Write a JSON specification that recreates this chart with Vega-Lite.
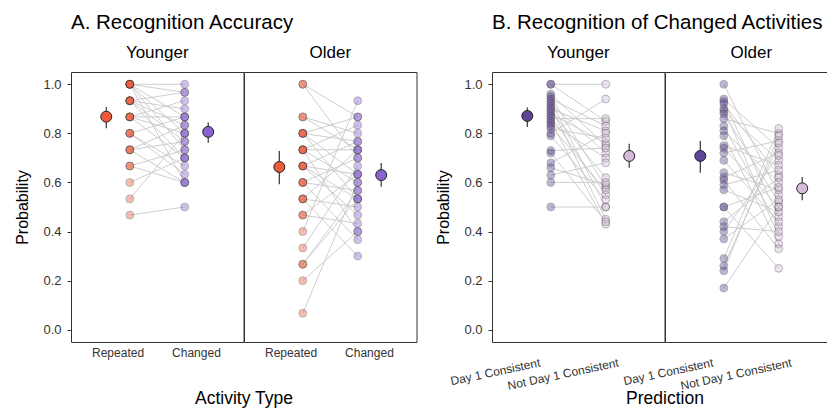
{
"$schema": "https://vega.github.io/schema/vega-lite/v6.json",
"padding": {"left": 14, "top": 12, "right": 0, "bottom": 0},
"datasets": {
"acc": [
{"age":"Younger","subject":"Y01","cond":"Repeated","p":1},{"age":"Younger","subject":"Y01","cond":"Changed","p":1},
{"age":"Younger","subject":"Y02","cond":"Repeated","p":1},{"age":"Younger","subject":"Y02","cond":"Changed","p":0.967},
{"age":"Younger","subject":"Y03","cond":"Repeated","p":1},{"age":"Younger","subject":"Y03","cond":"Changed","p":0.867},
{"age":"Younger","subject":"Y04","cond":"Repeated","p":1},{"age":"Younger","subject":"Y04","cond":"Changed","p":0.8},
{"age":"Younger","subject":"Y05","cond":"Repeated","p":1},{"age":"Younger","subject":"Y05","cond":"Changed","p":0.733},
{"age":"Younger","subject":"Y06","cond":"Repeated","p":1},{"age":"Younger","subject":"Y06","cond":"Changed","p":0.6},
{"age":"Younger","subject":"Y07","cond":"Repeated","p":0.933},{"age":"Younger","subject":"Y07","cond":"Changed","p":0.967},
{"age":"Younger","subject":"Y08","cond":"Repeated","p":0.933},{"age":"Younger","subject":"Y08","cond":"Changed","p":0.9},
{"age":"Younger","subject":"Y09","cond":"Repeated","p":0.933},{"age":"Younger","subject":"Y09","cond":"Changed","p":0.833},
{"age":"Younger","subject":"Y10","cond":"Repeated","p":0.933},{"age":"Younger","subject":"Y10","cond":"Changed","p":0.767},
{"age":"Younger","subject":"Y11","cond":"Repeated","p":0.933},{"age":"Younger","subject":"Y11","cond":"Changed","p":0.7},
{"age":"Younger","subject":"Y12","cond":"Repeated","p":0.867},{"age":"Younger","subject":"Y12","cond":"Changed","p":0.933},
{"age":"Younger","subject":"Y13","cond":"Repeated","p":0.867},{"age":"Younger","subject":"Y13","cond":"Changed","p":0.867},
{"age":"Younger","subject":"Y14","cond":"Repeated","p":0.867},{"age":"Younger","subject":"Y14","cond":"Changed","p":0.7},
{"age":"Younger","subject":"Y15","cond":"Repeated","p":0.867},{"age":"Younger","subject":"Y15","cond":"Changed","p":0.8},
{"age":"Younger","subject":"Y16","cond":"Repeated","p":0.8},{"age":"Younger","subject":"Y16","cond":"Changed","p":0.867},
{"age":"Younger","subject":"Y17","cond":"Repeated","p":0.8},{"age":"Younger","subject":"Y17","cond":"Changed","p":0.667},
{"age":"Younger","subject":"Y18","cond":"Repeated","p":0.8},{"age":"Younger","subject":"Y18","cond":"Changed","p":0.633},
{"age":"Younger","subject":"Y19","cond":"Repeated","p":0.733},{"age":"Younger","subject":"Y19","cond":"Changed","p":0.833},
{"age":"Younger","subject":"Y20","cond":"Repeated","p":0.733},{"age":"Younger","subject":"Y20","cond":"Changed","p":0.767},
{"age":"Younger","subject":"Y21","cond":"Repeated","p":0.733},{"age":"Younger","subject":"Y21","cond":"Changed","p":0.6},
{"age":"Younger","subject":"Y22","cond":"Repeated","p":0.667},{"age":"Younger","subject":"Y22","cond":"Changed","p":0.6},
{"age":"Younger","subject":"Y23","cond":"Repeated","p":0.667},{"age":"Younger","subject":"Y23","cond":"Changed","p":0.733},
{"age":"Younger","subject":"Y24","cond":"Repeated","p":0.6},{"age":"Younger","subject":"Y24","cond":"Changed","p":0.7},
{"age":"Younger","subject":"Y25","cond":"Repeated","p":0.533},{"age":"Younger","subject":"Y25","cond":"Changed","p":0.8},
{"age":"Younger","subject":"Y26","cond":"Repeated","p":0.467},{"age":"Younger","subject":"Y26","cond":"Changed","p":0.5},
{"age":"Older","subject":"O01","cond":"Repeated","p":1},{"age":"Older","subject":"O01","cond":"Changed","p":0.7},
{"age":"Older","subject":"O02","cond":"Repeated","p":1},{"age":"Older","subject":"O02","cond":"Changed","p":0.867},
{"age":"Older","subject":"O03","cond":"Repeated","p":0.867},{"age":"Older","subject":"O03","cond":"Changed","p":0.733},
{"age":"Older","subject":"O04","cond":"Repeated","p":0.867},{"age":"Older","subject":"O04","cond":"Changed","p":0.8},
{"age":"Older","subject":"O05","cond":"Repeated","p":0.8},{"age":"Older","subject":"O05","cond":"Changed","p":0.867},
{"age":"Older","subject":"O06","cond":"Repeated","p":0.8},{"age":"Older","subject":"O06","cond":"Changed","p":0.633},
{"age":"Older","subject":"O07","cond":"Repeated","p":0.8},{"age":"Older","subject":"O07","cond":"Changed","p":0.533},
{"age":"Older","subject":"O08","cond":"Repeated","p":0.8},{"age":"Older","subject":"O08","cond":"Changed","p":0.767},
{"age":"Older","subject":"O09","cond":"Repeated","p":0.733},{"age":"Older","subject":"O09","cond":"Changed","p":0.833},
{"age":"Older","subject":"O10","cond":"Repeated","p":0.733},{"age":"Older","subject":"O10","cond":"Changed","p":0.6},
{"age":"Older","subject":"O11","cond":"Repeated","p":0.733},{"age":"Older","subject":"O11","cond":"Changed","p":0.4},
{"age":"Older","subject":"O12","cond":"Repeated","p":0.733},{"age":"Older","subject":"O12","cond":"Changed","p":0.733},
{"age":"Older","subject":"O13","cond":"Repeated","p":0.667},{"age":"Older","subject":"O13","cond":"Changed","p":0.767},
{"age":"Older","subject":"O14","cond":"Repeated","p":0.667},{"age":"Older","subject":"O14","cond":"Changed","p":0.533},
{"age":"Older","subject":"O15","cond":"Repeated","p":0.667},{"age":"Older","subject":"O15","cond":"Changed","p":0.633},
{"age":"Older","subject":"O16","cond":"Repeated","p":0.667},{"age":"Older","subject":"O16","cond":"Changed","p":0.467},
{"age":"Older","subject":"O17","cond":"Repeated","p":0.6},{"age":"Older","subject":"O17","cond":"Changed","p":0.7},
{"age":"Older","subject":"O18","cond":"Repeated","p":0.6},{"age":"Older","subject":"O18","cond":"Changed","p":0.567},
{"age":"Older","subject":"O19","cond":"Repeated","p":0.6},{"age":"Older","subject":"O19","cond":"Changed","p":0.367},
{"age":"Older","subject":"O20","cond":"Repeated","p":0.533},{"age":"Older","subject":"O20","cond":"Changed","p":0.733},
{"age":"Older","subject":"O21","cond":"Repeated","p":0.533},{"age":"Older","subject":"O21","cond":"Changed","p":0.5},
{"age":"Older","subject":"O22","cond":"Repeated","p":0.533},{"age":"Older","subject":"O22","cond":"Changed","p":0.3},
{"age":"Older","subject":"O23","cond":"Repeated","p":0.467},{"age":"Older","subject":"O23","cond":"Changed","p":0.633},
{"age":"Older","subject":"O24","cond":"Repeated","p":0.467},{"age":"Older","subject":"O24","cond":"Changed","p":0.433},
{"age":"Older","subject":"O25","cond":"Repeated","p":0.4},{"age":"Older","subject":"O25","cond":"Changed","p":0.933},
{"age":"Older","subject":"O26","cond":"Repeated","p":0.333},{"age":"Older","subject":"O26","cond":"Changed","p":0.667},
{"age":"Older","subject":"O27","cond":"Repeated","p":0.267},{"age":"Older","subject":"O27","cond":"Changed","p":0.567},
{"age":"Older","subject":"O28","cond":"Repeated","p":0.267},{"age":"Older","subject":"O28","cond":"Changed","p":0.533},
{"age":"Older","subject":"O29","cond":"Repeated","p":0.2},{"age":"Older","subject":"O29","cond":"Changed","p":0.4},
{"age":"Older","subject":"O30","cond":"Repeated","p":0.067},{"age":"Older","subject":"O30","cond":"Changed","p":0.6},
{"age":"Younger","cond":"Repeated","mean":0.868,"lo":0.821,"hi":0.907},
{"age":"Younger","cond":"Changed","mean":0.806,"lo":0.762,"hi":0.844},
{"age":"Older","cond":"Repeated","mean":0.663,"lo":0.593,"hi":0.728},
{"age":"Older","cond":"Changed","mean":0.63,"lo":0.582,"hi":0.679}
],
"chg": [
{"age":"Younger","subject":"Y01","cond":"Day 1 Consistent","p":1},{"age":"Younger","subject":"Y01","cond":"Not Day 1 Consistent","p":1},
{"age":"Younger","subject":"Y02","cond":"Day 1 Consistent","p":1},{"age":"Younger","subject":"Y02","cond":"Not Day 1 Consistent","p":0.85},
{"age":"Younger","subject":"Y03","cond":"Day 1 Consistent","p":0.96},{"age":"Younger","subject":"Y03","cond":"Not Day 1 Consistent","p":0.75},
{"age":"Younger","subject":"Y04","cond":"Day 1 Consistent","p":0.95},{"age":"Younger","subject":"Y04","cond":"Not Day 1 Consistent","p":0.58},
{"age":"Younger","subject":"Y05","cond":"Day 1 Consistent","p":0.94},{"age":"Younger","subject":"Y05","cond":"Not Day 1 Consistent","p":0.83},
{"age":"Younger","subject":"Y06","cond":"Day 1 Consistent","p":0.93},{"age":"Younger","subject":"Y06","cond":"Not Day 1 Consistent","p":0.5},
{"age":"Younger","subject":"Y07","cond":"Day 1 Consistent","p":0.92},{"age":"Younger","subject":"Y07","cond":"Not Day 1 Consistent","p":0.72},
{"age":"Younger","subject":"Y08","cond":"Day 1 Consistent","p":0.91},{"age":"Younger","subject":"Y08","cond":"Not Day 1 Consistent","p":0.45},
{"age":"Younger","subject":"Y09","cond":"Day 1 Consistent","p":0.9},{"age":"Younger","subject":"Y09","cond":"Not Day 1 Consistent","p":0.81},
{"age":"Younger","subject":"Y10","cond":"Day 1 Consistent","p":0.89},{"age":"Younger","subject":"Y10","cond":"Not Day 1 Consistent","p":0.62},
{"age":"Younger","subject":"Y11","cond":"Day 1 Consistent","p":0.88},{"age":"Younger","subject":"Y11","cond":"Not Day 1 Consistent","p":0.76},
{"age":"Younger","subject":"Y12","cond":"Day 1 Consistent","p":0.87},{"age":"Younger","subject":"Y12","cond":"Not Day 1 Consistent","p":0.55},
{"age":"Younger","subject":"Y13","cond":"Day 1 Consistent","p":0.86},{"age":"Younger","subject":"Y13","cond":"Not Day 1 Consistent","p":0.86},
{"age":"Younger","subject":"Y14","cond":"Day 1 Consistent","p":0.85},{"age":"Younger","subject":"Y14","cond":"Not Day 1 Consistent","p":0.43},
{"age":"Younger","subject":"Y15","cond":"Day 1 Consistent","p":0.84},{"age":"Younger","subject":"Y15","cond":"Not Day 1 Consistent","p":0.7},
{"age":"Younger","subject":"Y16","cond":"Day 1 Consistent","p":0.83},{"age":"Younger","subject":"Y16","cond":"Not Day 1 Consistent","p":0.57},
{"age":"Younger","subject":"Y17","cond":"Day 1 Consistent","p":0.82},{"age":"Younger","subject":"Y17","cond":"Not Day 1 Consistent","p":0.78},
{"age":"Younger","subject":"Y18","cond":"Day 1 Consistent","p":0.8},{"age":"Younger","subject":"Y18","cond":"Not Day 1 Consistent","p":0.94},
{"age":"Younger","subject":"Y19","cond":"Day 1 Consistent","p":0.79},{"age":"Younger","subject":"Y19","cond":"Not Day 1 Consistent","p":0.53},
{"age":"Younger","subject":"Y20","cond":"Day 1 Consistent","p":0.73},{"age":"Younger","subject":"Y20","cond":"Not Day 1 Consistent","p":0.74},
{"age":"Younger","subject":"Y21","cond":"Day 1 Consistent","p":0.72},{"age":"Younger","subject":"Y21","cond":"Not Day 1 Consistent","p":0.44},
{"age":"Younger","subject":"Y22","cond":"Day 1 Consistent","p":0.68},{"age":"Younger","subject":"Y22","cond":"Not Day 1 Consistent","p":0.8},
{"age":"Younger","subject":"Y23","cond":"Day 1 Consistent","p":0.66},{"age":"Younger","subject":"Y23","cond":"Not Day 1 Consistent","p":0.59},
{"age":"Younger","subject":"Y24","cond":"Day 1 Consistent","p":0.63},{"age":"Younger","subject":"Y24","cond":"Not Day 1 Consistent","p":0.68},
{"age":"Younger","subject":"Y25","cond":"Day 1 Consistent","p":0.6},{"age":"Younger","subject":"Y25","cond":"Not Day 1 Consistent","p":0.6},
{"age":"Younger","subject":"Y26","cond":"Day 1 Consistent","p":0.5},{"age":"Younger","subject":"Y26","cond":"Not Day 1 Consistent","p":0.5},
{"age":"Older","subject":"O01","cond":"Day 1 Consistent","p":1},{"age":"Older","subject":"O01","cond":"Not Day 1 Consistent","p":0.55},
{"age":"Older","subject":"O02","cond":"Day 1 Consistent","p":0.94},{"age":"Older","subject":"O02","cond":"Not Day 1 Consistent","p":0.74},
{"age":"Older","subject":"O03","cond":"Day 1 Consistent","p":0.93},{"age":"Older","subject":"O03","cond":"Not Day 1 Consistent","p":0.46},
{"age":"Older","subject":"O04","cond":"Day 1 Consistent","p":0.92},{"age":"Older","subject":"O04","cond":"Not Day 1 Consistent","p":0.63},
{"age":"Older","subject":"O05","cond":"Day 1 Consistent","p":0.9},{"age":"Older","subject":"O05","cond":"Not Day 1 Consistent","p":0.38},
{"age":"Older","subject":"O06","cond":"Day 1 Consistent","p":0.89},{"age":"Older","subject":"O06","cond":"Not Day 1 Consistent","p":0.69},
{"age":"Older","subject":"O07","cond":"Day 1 Consistent","p":0.88},{"age":"Older","subject":"O07","cond":"Not Day 1 Consistent","p":0.52},
{"age":"Older","subject":"O08","cond":"Day 1 Consistent","p":0.86},{"age":"Older","subject":"O08","cond":"Not Day 1 Consistent","p":0.8},
{"age":"Older","subject":"O09","cond":"Day 1 Consistent","p":0.83},{"age":"Older","subject":"O09","cond":"Not Day 1 Consistent","p":0.42},
{"age":"Older","subject":"O10","cond":"Day 1 Consistent","p":0.81},{"age":"Older","subject":"O10","cond":"Not Day 1 Consistent","p":0.6},
{"age":"Older","subject":"O11","cond":"Day 1 Consistent","p":0.79},{"age":"Older","subject":"O11","cond":"Not Day 1 Consistent","p":0.35},
{"age":"Older","subject":"O12","cond":"Day 1 Consistent","p":0.75},{"age":"Older","subject":"O12","cond":"Not Day 1 Consistent","p":0.67},
{"age":"Older","subject":"O13","cond":"Day 1 Consistent","p":0.74},{"age":"Older","subject":"O13","cond":"Not Day 1 Consistent","p":0.5},
{"age":"Older","subject":"O14","cond":"Day 1 Consistent","p":0.72},{"age":"Older","subject":"O14","cond":"Not Day 1 Consistent","p":0.77},
{"age":"Older","subject":"O15","cond":"Day 1 Consistent","p":0.69},{"age":"Older","subject":"O15","cond":"Not Day 1 Consistent","p":0.44},
{"age":"Older","subject":"O16","cond":"Day 1 Consistent","p":0.64},{"age":"Older","subject":"O16","cond":"Not Day 1 Consistent","p":0.57},
{"age":"Older","subject":"O17","cond":"Day 1 Consistent","p":0.62},{"age":"Older","subject":"O17","cond":"Not Day 1 Consistent","p":0.72},
{"age":"Older","subject":"O18","cond":"Day 1 Consistent","p":0.61},{"age":"Older","subject":"O18","cond":"Not Day 1 Consistent","p":0.33},
{"age":"Older","subject":"O19","cond":"Day 1 Consistent","p":0.59},{"age":"Older","subject":"O19","cond":"Not Day 1 Consistent","p":0.65},
{"age":"Older","subject":"O20","cond":"Day 1 Consistent","p":0.57},{"age":"Older","subject":"O20","cond":"Not Day 1 Consistent","p":0.48},
{"age":"Older","subject":"O21","cond":"Day 1 Consistent","p":0.5},{"age":"Older","subject":"O21","cond":"Not Day 1 Consistent","p":0.25},
{"age":"Older","subject":"O22","cond":"Day 1 Consistent","p":0.5},{"age":"Older","subject":"O22","cond":"Not Day 1 Consistent","p":0.58},
{"age":"Older","subject":"O23","cond":"Day 1 Consistent","p":0.44},{"age":"Older","subject":"O23","cond":"Not Day 1 Consistent","p":0.62},
{"age":"Older","subject":"O24","cond":"Day 1 Consistent","p":0.42},{"age":"Older","subject":"O24","cond":"Not Day 1 Consistent","p":0.4},
{"age":"Older","subject":"O25","cond":"Day 1 Consistent","p":0.4},{"age":"Older","subject":"O25","cond":"Not Day 1 Consistent","p":0.71},
{"age":"Older","subject":"O26","cond":"Day 1 Consistent","p":0.37},{"age":"Older","subject":"O26","cond":"Not Day 1 Consistent","p":0.53},
{"age":"Older","subject":"O27","cond":"Day 1 Consistent","p":0.29},{"age":"Older","subject":"O27","cond":"Not Day 1 Consistent","p":0.82},
{"age":"Older","subject":"O28","cond":"Day 1 Consistent","p":0.26},{"age":"Older","subject":"O28","cond":"Not Day 1 Consistent","p":0.76},
{"age":"Older","subject":"O29","cond":"Day 1 Consistent","p":0.24},{"age":"Older","subject":"O29","cond":"Not Day 1 Consistent","p":0.79},
{"age":"Older","subject":"O30","cond":"Day 1 Consistent","p":0.17},{"age":"Older","subject":"O30","cond":"Not Day 1 Consistent","p":0.5},
{"age":"Younger","cond":"Day 1 Consistent","mean":0.871,"lo":0.826,"hi":0.905},
{"age":"Younger","cond":"Not Day 1 Consistent","mean":0.708,"lo":0.66,"hi":0.758},
{"age":"Older","cond":"Day 1 Consistent","mean":0.708,"lo":0.64,"hi":0.769},
{"age":"Older","cond":"Not Day 1 Consistent","mean":0.576,"lo":0.527,"hi":0.622}
]
},
"hconcat": [
{
"data": {"name": "acc"},
"title": {"text": "A. Recognition Accuracy", "anchor": "start", "frame": "group", "offset": 11},
"facet": {"column": {"field": "age", "type": "nominal", "sort": ["Younger", "Older"], "title": "Activity Type", "header": {"labelOrient": "top", "titleOrient": "bottom", "titlePadding": 22}}},
"spacing": 0,
"bounds": "flush",
"spec": {
"width": 172.5, "height": 270,
"resolve": {"scale": {"xOffset": "independent"}},
"layer": [
{"transform": [{"filter": "isValid(datum.p)"}],
 "mark": {"type": "line", "color": "#c8c8c8", "strokeWidth": 0.9},
 "encoding": {
  "x": {"field": "cond", "type": "nominal", "sort": ["Repeated", "Changed"], "scale": {"type": "band", "paddingInner": 0, "paddingOuter": 0.1}, "axis": {"title": null, "labelAngle": 0, "ticks": false, "domain": false, "labelFontSize": 12, "labelPadding": 5}},
  "xOffset": {"field": "cond", "type": "nominal", "scale": {"type": "band", "domain": ["Changed", "Repeated"], "paddingInner": 0, "paddingOuter": 0.668}},
  "y": {"field": "p", "type": "quantitative", "title": "Probability", "scale": {"domain": [-0.05, 1.05], "nice": false, "zero": false}, "axis": {"values": [0, 0.1, 0.2, 0.3, 0.4, 0.5, 0.6, 0.7, 0.8, 0.9, 1], "format": ".1f", "domain": false, "tickSize": 4, "labelFontSize": 13, "titleFontSize": 16, "labelPadding": 6, "titlePadding": 12}},
  "detail": {"field": "subject"}}},
{"transform": [{"filter": "isValid(datum.p)"}],
 "mark": {"type": "point", "shape": "circle", "filled": true, "size": 62, "opacity": 0.4, "stroke": "#222", "strokeWidth": 0.8},
 "encoding": {
  "x": {"field": "cond", "type": "nominal", "sort": ["Repeated", "Changed"]},
  "xOffset": {"field": "cond", "type": "nominal", "scale": {"type": "band", "domain": ["Changed", "Repeated"], "paddingInner": 0, "paddingOuter": 0.668}},
  "y": {"field": "p", "type": "quantitative", "title": "Probability"},
  "color": {"field": "cond", "type": "nominal", "scale": {"domain": ["Repeated", "Changed"], "range": ["#EE5A3C", "#8A63D2"]}, "legend": null}}},
{"transform": [{"filter": "isValid(datum.mean)"}],
 "mark": {"type": "rule", "color": "#333", "strokeWidth": 1.2},
 "encoding": {
  "x": {"field": "cond", "type": "nominal", "sort": ["Repeated", "Changed"]},
  "xOffset": {"field": "cond", "type": "nominal", "scale": {"type": "band", "domain": ["Repeated", "Changed"], "paddingInner": 0, "paddingOuter": 0.668}},
  "y": {"field": "lo", "type": "quantitative", "title": "Probability"},
  "y2": {"field": "hi"}}},
{"transform": [{"filter": "isValid(datum.mean)"}],
 "mark": {"type": "point", "shape": "circle", "filled": true, "size": 120, "opacity": 1, "stroke": "#222", "strokeWidth": 1},
 "encoding": {
  "x": {"field": "cond", "type": "nominal", "sort": ["Repeated", "Changed"]},
  "xOffset": {"field": "cond", "type": "nominal", "scale": {"type": "band", "domain": ["Repeated", "Changed"], "paddingInner": 0, "paddingOuter": 0.668}},
  "y": {"field": "mean", "type": "quantitative", "title": "Probability"},
  "color": {"field": "cond", "type": "nominal", "legend": null}}}
]
}
},
{
"data": {"name": "chg"},
"title": {"text": "B. Recognition of Changed Activities", "anchor": "start", "frame": "group", "offset": 11},
"facet": {"column": {"field": "age", "type": "nominal", "sort": ["Younger", "Older"], "title": "Prediction", "header": {"labelOrient": "top", "titleOrient": "bottom", "titlePadding": -12}}},
"spacing": 0,
"bounds": "flush",
"spec": {
"width": 172.5, "height": 270,
"resolve": {"scale": {"xOffset": "independent"}},
"layer": [
{"transform": [{"filter": "isValid(datum.p)"}],
 "mark": {"type": "line", "color": "#c8c8c8", "strokeWidth": 0.9},
 "encoding": {
  "x": {"field": "cond", "type": "nominal", "sort": ["Day 1 Consistent", "Not Day 1 Consistent"], "scale": {"type": "band", "paddingInner": 0, "paddingOuter": 0.1}, "axis": {"title": null, "labelAngle": -12, "labelAlign": "right", "labelBaseline": "top", "ticks": false, "domain": false, "labelFontSize": 12, "labelPadding": 15}},
  "xOffset": {"field": "cond", "type": "nominal", "scale": {"type": "band", "domain": ["Not Day 1 Consistent", "Day 1 Consistent"], "paddingInner": 0, "paddingOuter": 0.668}},
  "y": {"field": "p", "type": "quantitative", "title": "Probability", "scale": {"domain": [-0.05, 1.05], "nice": false, "zero": false}, "axis": {"values": [0, 0.1, 0.2, 0.3, 0.4, 0.5, 0.6, 0.7, 0.8, 0.9, 1], "format": ".1f", "domain": false, "tickSize": 4, "labelFontSize": 13, "titleFontSize": 16, "labelPadding": 6, "titlePadding": 12}},
  "detail": {"field": "subject"}}},
{"transform": [{"filter": "isValid(datum.p)"}],
 "mark": {"type": "point", "shape": "circle", "filled": true, "size": 62, "opacity": 0.4, "stroke": "#222", "strokeWidth": 0.8},
 "encoding": {
  "x": {"field": "cond", "type": "nominal", "sort": ["Day 1 Consistent", "Not Day 1 Consistent"]},
  "xOffset": {"field": "cond", "type": "nominal", "scale": {"type": "band", "domain": ["Not Day 1 Consistent", "Day 1 Consistent"], "paddingInner": 0, "paddingOuter": 0.668}},
  "y": {"field": "p", "type": "quantitative", "title": "Probability"},
  "color": {"field": "cond", "type": "nominal", "scale": {"domain": ["Day 1 Consistent", "Not Day 1 Consistent"], "range": ["#5E4596", "#D6BADA"]}, "legend": null}}},
{"transform": [{"filter": "isValid(datum.mean)"}],
 "mark": {"type": "rule", "color": "#333", "strokeWidth": 1.2},
 "encoding": {
  "x": {"field": "cond", "type": "nominal", "sort": ["Day 1 Consistent", "Not Day 1 Consistent"]},
  "xOffset": {"field": "cond", "type": "nominal", "scale": {"type": "band", "domain": ["Day 1 Consistent", "Not Day 1 Consistent"], "paddingInner": 0, "paddingOuter": 0.668}},
  "y": {"field": "lo", "type": "quantitative", "title": "Probability"},
  "y2": {"field": "hi"}}},
{"transform": [{"filter": "isValid(datum.mean)"}],
 "mark": {"type": "point", "shape": "circle", "filled": true, "size": 120, "opacity": 1, "stroke": "#222", "strokeWidth": 1},
 "encoding": {
  "x": {"field": "cond", "type": "nominal", "sort": ["Day 1 Consistent", "Not Day 1 Consistent"]},
  "xOffset": {"field": "cond", "type": "nominal", "scale": {"type": "band", "domain": ["Day 1 Consistent", "Not Day 1 Consistent"], "paddingInner": 0, "paddingOuter": 0.668}},
  "y": {"field": "mean", "type": "quantitative", "title": "Probability"},
  "color": {"field": "cond", "type": "nominal", "legend": null}}}
]
}
}
],
"spacing": 18,
"resolve": {"scale": {"color": "independent"}},
"config": {
 "font": "Liberation Sans",
 "view": {"stroke": "#333", "strokeWidth": 1},
 "axis": {"grid": false, "labelColor": "#333", "titleColor": "#000", "titleFontWeight": "normal", "tickColor": "#333"},
 "header": {"labelFontSize": 17, "labelColor": "#000", "titleFontSize": 17.5, "titleColor": "#000", "titleFontWeight": "normal"},
 "title": {"fontSize": 20.5, "fontWeight": "normal", "color": "#000"}
}
}
